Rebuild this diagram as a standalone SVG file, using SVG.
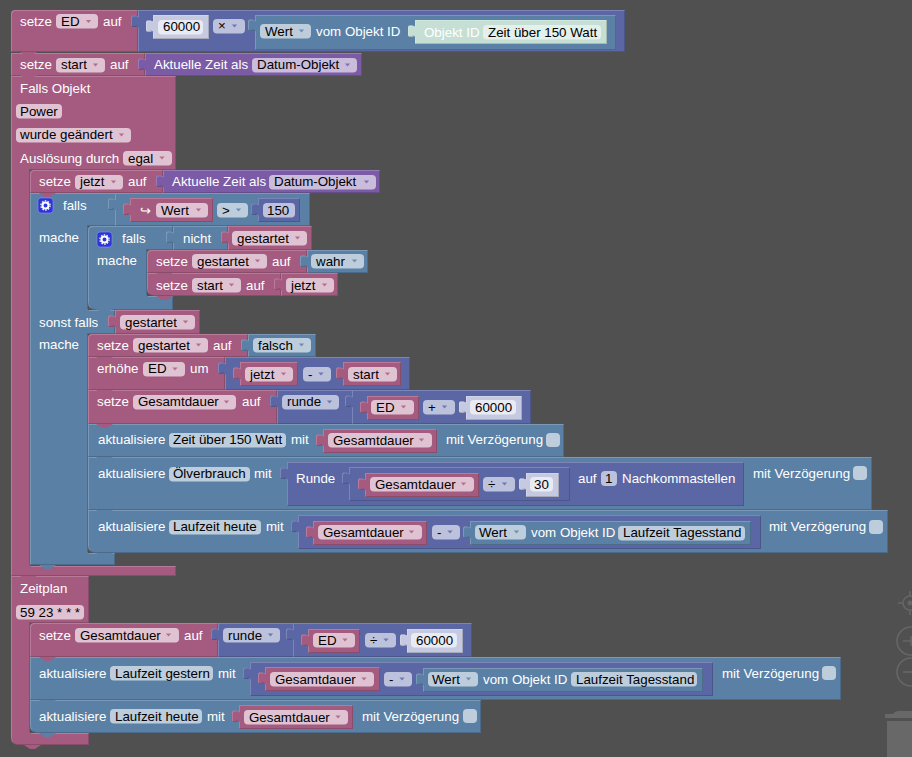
<svg xmlns="http://www.w3.org/2000/svg" width="912" height="757" viewBox="0 0 912 757">
<style>
text{font-family:"Liberation Sans",Arial,sans-serif;font-size:13.33px;fill:#fff}
.f text{fill:#000}
.bk{filter:url(#bv)}
.m{fill:#a55b80}.b{fill:#5b80a5}.i{fill:#5b67a5}.p{fill:#7b5ba5}.n{fill:#c6cae1}.g{fill:#c5dfd5}
.fm{fill:#e0c3d2}.fb{fill:#bdcddc}.fi{fill:#bdc2dc}.fp{fill:#cabddc}.fn{fill:#e9ebf4}.fg{fill:#e4f0eb}
.tool{fill:none;stroke:#666;stroke-width:1.6}
</style>
<defs>
<filter id="bv" x="-2%" y="-6%" width="104%" height="112%" color-interpolation-filters="sRGB">
<feOffset in="SourceAlpha" dx="1" dy="1" result="o1"/>
<feComposite in="SourceAlpha" in2="o1" operator="out" result="e1"/>
<feFlood flood-color="#fff" flood-opacity=".2"/><feComposite in2="e1" operator="in" result="hl"/>
<feOffset in="SourceAlpha" dx="-1" dy="-1" result="o2"/>
<feComposite in="SourceAlpha" in2="o2" operator="out" result="e2"/>
<feFlood flood-color="#000" flood-opacity=".16"/><feComposite in2="e2" operator="in" result="sh"/>
<feMerge><feMergeNode in="SourceGraphic"/><feMergeNode in="hl"/><feMergeNode in="sh"/></feMerge>
</filter>
<path id="tab" d="M1,-.5L-1,.5L-2,-.5H-6L-7,1V9L-6,11H-2L-1,10L1,11Z"/>
<polygon id="dd" points="-2.6,-1.6 2.6,-1.6 0,1.6" opacity=".8"/>
<path id="notch" d="M0,0L6,4H11L17,0Z"/>
<g id="gear"><rect width="15" height="15" rx="3" fill="#2b35d8" stroke="#8f95e8" stroke-width=".6"/><circle cx="7.5" cy="7.5" r="3" fill="none" stroke="#fff" stroke-width="2"/><circle cx="7.5" cy="7.5" r="4.6" fill="none" stroke="#fff" stroke-width="1.2" stroke-dasharray="1.6 1.3"/></g>
</defs>
<rect width="912" height="757" fill="#505050"/>

<g id="tools">
<circle class="tool" cx="910" cy="603" r="7"/><path class="tool" d="M898,603H903M910,591V596M910,610V615"/><circle cx="910" cy="603" r="2.5" fill="#666"/>
<circle class="tool" cx="911" cy="641" r="14"/><path class="tool" d="M903,641H912M911,636V646"/>
<circle class="tool" cx="911" cy="672" r="14"/><path class="tool" d="M903,672H912"/>
<path fill="#686868" d="M885,714H893Q895,711 899,711H912V718H885ZM887,721H912V757H887Z"/>
</g>

<g id="setze-ed">
<g class="bk m"><path d="M11,14Q11,10 15,10H138V52H11Z"/></g>
<text x="20" y="26">setze</text>
<g class="f"><rect class="fm" x="56" y="14" width="42" height="14.5" rx="4"/><text x="61" y="26">ED</text><use href="#dd" class="m" x="88.5" y="21.5"/></g>
<text x="103" y="26">auf</text>
</g>
<g id="mult">
<g class="bk i"><rect x="138" y="10" width="487" height="42"/><use href="#tab" x="138" y="16"/></g>
<g class="bk n"><rect x="153" y="15" width="56" height="24"/><use href="#tab" x="153" y="21"/></g>
<g class="f"><rect class="fn" x="158" y="20" width="45" height="14.5" rx="4"/><text x="163" y="31">60000</text></g>
<g class="f"><rect class="fi" x="213" y="19" width="32" height="14.5" rx="4"/><text x="218" y="30">×</text><use href="#dd" class="i" x="234.5" y="26"/></g>
</g>
<g id="wert-zeit">
<g class="bk b"><rect x="255" y="15" width="361" height="35"/><use href="#tab" x="255" y="20"/></g>
<g class="f"><rect class="fb" x="260" y="24" width="51" height="14.5" rx="4"/><text x="265" y="36">Wert</text><use href="#dd" class="b" x="301.5" y="31"/></g>
<text x="316" y="36">vom Objekt ID</text>
<g class="bk g"><rect x="415" y="20" width="192" height="24"/><use href="#tab" x="415" y="26"/></g>
<text x="424" y="37">Objekt ID</text>
<g class="f"><rect class="fg" x="483" y="25" width="118" height="14.5" rx="4"/><text x="488" y="37">Zeit über 150 Watt</text></g>
</g>

<g id="setze-start">
<g class="bk m"><rect x="11" y="53" width="134" height="23"/></g>
<text x="20" y="69">setze</text>
<g class="f"><rect class="fm" x="56" y="58" width="49" height="14.5" rx="4"/><text x="61" y="69">start</text><use href="#dd" class="m" x="95.5" y="65"/></g>
<text x="110" y="69">auf</text>
<g class="bk p"><rect x="145" y="53" width="217" height="23"/><use href="#tab" x="145" y="59"/></g>
<text x="154" y="69">Aktuelle Zeit als</text>
<g class="f"><rect class="fp" x="252" y="58" width="105" height="14.5" rx="4"/><text x="257" y="69">Datum-Objekt</text><use href="#dd" class="p" x="347.5" y="65"/></g>
</g>

<g id="falls-objekt">
<g class="bk m"><path d="M11,76H176V170H30V566H176V576H11Z"/></g>
<text x="20" y="93">Falls Objekt</text>
<g class="f"><rect class="fm" x="16" y="104" width="46" height="14.5" rx="4"/><text x="20" y="116">Power</text></g>
<g class="f"><rect class="fm" x="16" y="128" width="115" height="14.5" rx="4"/><text x="20" y="139">wurde geändert</text><use href="#dd" class="m" x="121.5" y="135"/></g>
<text x="20" y="163">Auslösung durch</text>
<g class="f"><rect class="fm" x="123" y="151" width="49" height="14.5" rx="4"/><text x="128" y="163">egal</text><use href="#dd" class="m" x="162" y="158"/></g>
</g>

<g id="setze-jetzt">
<g class="bk m"><path d="M30,174Q30,170 34,170H163V193H30Z"/></g>
<text x="39" y="186">setze</text>
<g class="f"><rect class="fm" x="75" y="175" width="48" height="14.5" rx="4"/><text x="80" y="186">jetzt</text><use href="#dd" class="m" x="113.5" y="182"/></g>
<text x="128" y="186">auf</text>
<g class="bk p"><rect x="163" y="170" width="217" height="23"/><use href="#tab" x="163" y="176"/></g>
<text x="172" y="186">Aktuelle Zeit als</text>
<g class="f"><rect class="fp" x="269" y="175" width="107" height="14.5" rx="4"/><text x="274" y="186">Datum-Objekt</text><use href="#dd" class="p" x="366.5" y="182"/></g>
</g>

<g id="falls-outer">
<g class="bk b"><path d="M30,193H310V226H88V310H115V334H88V553H115V565H30Z"/></g>
<use href="#gear" x="38" y="198"/>
<text x="63" y="210">falls</text>
<text x="39" y="242">mache</text>
<text x="39" y="327">sonst falls</text>
<text x="39" y="349">mache</text>
</g>
<g id="vergleich">
<g class="bk b"><rect x="115" y="193" width="195" height="33"/><use href="#tab" x="115" y="199"/></g>
<g class="bk m"><rect x="130" y="198" width="83" height="24"/><use href="#tab" x="130" y="204"/></g>
<text x="140" y="215" font-size="15">↪</text>
<g class="f"><rect class="fm" x="156" y="203" width="52" height="14.5" rx="4"/><text x="161" y="215">Wert</text><use href="#dd" class="m" x="198.5" y="210"/></g>
<g class="f"><rect class="fb" x="217" y="203" width="31" height="14.5" rx="4"/><text x="222" y="215">&gt;</text><use href="#dd" class="b" x="238.5" y="210"/></g>
<g class="bk i"><rect x="258" y="198" width="42" height="24"/><use href="#tab" x="258" y="204"/></g>
<g class="f"><rect class="fi" x="263" y="203" width="32" height="14.5" rx="4"/><text x="267" y="215">150</text></g>
</g>

<g id="falls-inner">
<g class="bk b"><path d="M88,230Q88,226 92,226H173V250H147V296H173V310H96Q88,310 88,302Z"/></g>
<use href="#gear" x="97" y="232"/>
<text x="122" y="243">falls</text>
<text x="97" y="265">mache</text>
<g class="bk b"><rect x="173" y="226" width="55" height="24"/><use href="#tab" x="173" y="232"/></g>
<text x="183" y="243">nicht</text>
<g class="bk m"><rect x="228" y="226" width="84" height="24"/><use href="#tab" x="228" y="232"/></g>
<g class="f"><rect class="fm" x="232" y="231" width="75" height="14.5" rx="4"/><text x="237" y="243">gestartet</text><use href="#dd" class="m" x="297.5" y="238"/></g>
</g>
<g id="setze-gestartet-wahr">
<g class="bk m"><path d="M147,254Q147,250 151,250H307V273H147Z"/></g>
<text x="156" y="266">setze</text>
<g class="f"><rect class="fm" x="192" y="254" width="75" height="14.5" rx="4"/><text x="197" y="266">gestartet</text><use href="#dd" class="m" x="257.5" y="261"/></g>
<text x="272" y="266">auf</text>
<g class="bk b"><rect x="307" y="250" width="61" height="23"/><use href="#tab" x="307" y="256"/></g>
<g class="f"><rect class="fb" x="311" y="254" width="53" height="14.5" rx="4"/><text x="316" y="266">wahr</text><use href="#dd" class="b" x="354.5" y="261"/></g>
</g>
<g id="setze-start-jetzt">
<g class="bk m"><path d="M147,273H281V296H155Q147,296 147,288Z"/></g>
<text x="156" y="290">setze</text>
<g class="f"><rect class="fm" x="192" y="278" width="49" height="14.5" rx="4"/><text x="197" y="290">start</text><use href="#dd" class="m" x="231.5" y="285"/></g>
<text x="246" y="290">auf</text>
<g class="bk m"><rect x="281" y="273" width="57" height="23"/><use href="#tab" x="281" y="279"/></g>
<g class="f"><rect class="fm" x="286" y="278" width="48" height="14.5" rx="4"/><text x="291" y="290">jetzt</text><use href="#dd" class="m" x="324.5" y="285"/></g>
</g>

<g id="gestartet-test">
<g class="bk m"><rect x="115" y="310" width="85" height="24"/><use href="#tab" x="115" y="316"/></g>
<g class="f"><rect class="fm" x="120" y="315" width="75" height="14.5" rx="4"/><text x="125" y="327">gestartet</text><use href="#dd" class="m" x="185.5" y="322"/></g>
</g>
<g id="setze-gestartet-falsch">
<g class="bk m"><path d="M88,338Q88,334 92,334H248V357H88Z"/></g>
<text x="97" y="350">setze</text>
<g class="f"><rect class="fm" x="133" y="338" width="75" height="14.5" rx="4"/><text x="138" y="350">gestartet</text><use href="#dd" class="m" x="198.5" y="345"/></g>
<text x="213" y="350">auf</text>
<g class="bk b"><rect x="248" y="334" width="68" height="23"/><use href="#tab" x="248" y="340"/></g>
<g class="f"><rect class="fb" x="253" y="338" width="58" height="14.5" rx="4"/><text x="258" y="350">falsch</text><use href="#dd" class="b" x="301.5" y="345"/></g>
</g>
<g id="erhoehe-ed">
<g class="bk m"><rect x="88" y="357" width="137" height="33"/></g>
<text x="97" y="373">erhöhe</text>
<g class="f"><rect class="fm" x="143" y="362" width="42" height="14.5" rx="4"/><text x="148" y="373">ED</text><use href="#dd" class="m" x="175" y="369"/></g>
<text x="190" y="373">um</text>
<g class="bk i"><rect x="225" y="357" width="185" height="33"/><use href="#tab" x="225" y="363"/></g>
<g class="bk m"><rect x="240" y="362" width="58" height="24"/><use href="#tab" x="240" y="368"/></g>
<g class="f"><rect class="fm" x="245" y="367" width="48" height="14.5" rx="4"/><text x="250" y="379">jetzt</text><use href="#dd" class="m" x="283.5" y="374"/></g>
<g class="f"><rect class="fi" x="303" y="367" width="28" height="14.5" rx="4"/><text x="308" y="379">-</text><use href="#dd" class="i" x="321" y="374"/></g>
<g class="bk m"><rect x="343" y="362" width="58" height="24"/><use href="#tab" x="343" y="368"/></g>
<g class="f"><rect class="fm" x="348" y="367" width="49" height="14.5" rx="4"/><text x="353" y="379">start</text><use href="#dd" class="m" x="387.5" y="374"/></g>
</g>
<g id="setze-gesamtdauer-1">
<g class="bk m"><rect x="88" y="390" width="189" height="34"/></g>
<text x="97" y="406">setze</text>
<g class="f"><rect class="fm" x="133" y="395" width="103" height="14.5" rx="4"/><text x="138" y="406">Gesamtdauer</text><use href="#dd" class="m" x="226.5" y="402"/></g>
<text x="242" y="406">auf</text>
<g class="bk i"><rect x="277" y="390" width="254" height="34"/><use href="#tab" x="277" y="396"/></g>
<g class="f"><rect class="fi" x="282" y="395" width="57" height="14.5" rx="4"/><text x="287" y="406">runde</text><use href="#dd" class="i" x="329.5" y="402"/></g>
<g class="bk i"><rect x="352" y="390" width="179" height="34"/><use href="#tab" x="352" y="396"/></g>
<g class="bk m"><rect x="367" y="396" width="52" height="24"/><use href="#tab" x="367" y="402"/></g>
<g class="f"><rect class="fm" x="371" y="400" width="43" height="14.5" rx="4"/><text x="376" y="412">ED</text><use href="#dd" class="m" x="403.5" y="407"/></g>
<g class="f"><rect class="fi" x="423" y="400" width="32" height="14.5" rx="4"/><text x="428" y="412">+</text><use href="#dd" class="i" x="444.5" y="407"/></g>
<g class="bk n"><rect x="466" y="396" width="56" height="24"/><use href="#tab" x="466" y="402"/></g>
<g class="f"><rect class="fn" x="470" y="400" width="46" height="14.5" rx="4"/><text x="475" y="412">60000</text></g>
</g>
<g id="akt-zeit">
<g class="bk b"><rect x="88" y="424" width="476" height="33"/></g>
<text x="98" y="444">aktualisiere</text>
<g class="f"><rect class="fb" x="169" y="433" width="117" height="14.5" rx="4"/><text x="173" y="444">Zeit über 150 Watt</text></g>
<text x="291" y="444">mit</text>
<g class="bk m"><rect x="323" y="429" width="114" height="24"/><use href="#tab" x="323" y="435"/></g>
<g class="f"><rect class="fm" x="328" y="433" width="104" height="14.5" rx="4"/><text x="333" y="445">Gesamtdauer</text><use href="#dd" class="m" x="421.5" y="440"/></g>
<text x="446" y="444">mit Verzögerung</text>
<rect class="fb" x="546" y="433" width="14" height="14" rx="4"/>
</g>
<g id="akt-oel">
<g class="bk b"><rect x="88" y="457" width="784" height="53"/></g>
<text x="98" y="478">aktualisiere</text>
<g class="f"><rect class="fb" x="169" y="467" width="81" height="14.5" rx="4"/><text x="173" y="478">Ölverbrauch</text></g>
<text x="254" y="478">mit</text>
<g class="bk i"><rect x="287" y="462" width="457" height="44"/><use href="#tab" x="287" y="468"/></g>
<text x="296" y="483">Runde</text>
<g class="bk i"><rect x="349" y="467" width="221" height="34"/><use href="#tab" x="349" y="473"/></g>
<g class="bk m"><rect x="365" y="473" width="114" height="24"/><use href="#tab" x="365" y="479"/></g>
<g class="f"><rect class="fm" x="370" y="477" width="104" height="14.5" rx="4"/><text x="375" y="489">Gesamtdauer</text><use href="#dd" class="m" x="463.5" y="484"/></g>
<g class="f"><rect class="fi" x="483" y="477" width="32" height="14.5" rx="4"/><text x="488" y="489">÷</text><use href="#dd" class="i" x="504.5" y="484"/></g>
<g class="bk n"><rect x="526" y="473" width="33" height="24"/><use href="#tab" x="526" y="479"/></g>
<g class="f"><rect class="fn" x="530" y="477" width="23" height="14.5" rx="4"/><text x="534" y="489">30</text></g>
<text x="578" y="483">auf</text>
<g class="f"><rect class="fi" x="601" y="471" width="16" height="15" rx="4"/><text x="605" y="483">1</text></g>
<text x="622" y="483">Nachkommastellen</text>
<text x="753" y="478">mit Verzögerung</text>
<rect class="fb" x="853" y="466" width="14" height="14" rx="4"/>
</g>
<g id="akt-lauf-heute-1">
<g class="bk b"><path d="M88,510H888V553H96Q88,553 88,545Z"/></g>
<text x="98" y="531">aktualisiere</text>
<g class="f"><rect class="fb" x="169" y="520" width="92" height="14.5" rx="4"/><text x="173" y="531">Laufzeit heute</text></g>
<text x="266" y="531">mit</text>
<g class="bk i"><rect x="298" y="515" width="463" height="34"/><use href="#tab" x="298" y="521"/></g>
<g class="bk m"><rect x="313" y="521" width="114" height="24"/><use href="#tab" x="313" y="527"/></g>
<g class="f"><rect class="fm" x="318" y="525" width="104" height="14.5" rx="4"/><text x="323" y="537">Gesamtdauer</text><use href="#dd" class="m" x="411.5" y="532"/></g>
<g class="f"><rect class="fi" x="432" y="525" width="28" height="14.5" rx="4"/><text x="437" y="537">-</text><use href="#dd" class="i" x="450" y="532"/></g>
<g class="bk b"><rect x="470" y="521" width="281" height="24"/><use href="#tab" x="470" y="527"/></g>
<g class="f"><rect class="fb" x="475" y="525" width="51" height="14.5" rx="4"/><text x="479" y="537">Wert</text><use href="#dd" class="b" x="516.5" y="532"/></g>
<text x="531" y="537">vom Objekt ID</text>
<g class="f"><rect class="fb" x="618" y="526" width="127" height="14.5" rx="4"/><text x="623" y="537">Laufzeit Tagesstand</text></g>
<text x="769" y="531">mit Verzögerung</text>
<rect class="fb" x="869" y="520" width="14" height="14" rx="4"/>
</g>

<g id="zeitplan">
<g class="bk m"><path d="M11,576H89V623H30V733H89V745H19Q11,745 11,737Z"/></g>
<text x="20" y="593">Zeitplan</text>
<g class="f"><rect class="fm" x="16" y="605" width="68" height="14.5" rx="4"/><text x="20" y="617">59 23 * * *</text></g>
</g>
<g id="setze-gesamtdauer-2">
<g class="bk m"><path d="M30,627Q30,623 34,623H218V657H30Z"/></g>
<text x="39" y="640">setze</text>
<g class="f"><rect class="fm" x="75" y="628" width="104" height="14.5" rx="4"/><text x="80" y="640">Gesamtdauer</text><use href="#dd" class="m" x="168.5" y="635"/></g>
<text x="184" y="640">auf</text>
<g class="bk i"><rect x="218" y="623" width="254" height="34"/><use href="#tab" x="218" y="629"/></g>
<g class="f"><rect class="fi" x="223" y="628" width="57" height="14.5" rx="4"/><text x="228" y="640">runde</text><use href="#dd" class="i" x="270.5" y="635"/></g>
<g class="bk i"><rect x="293" y="623" width="179" height="34"/><use href="#tab" x="293" y="629"/></g>
<g class="bk m"><rect x="308" y="629" width="52" height="24"/><use href="#tab" x="308" y="635"/></g>
<g class="f"><rect class="fm" x="313" y="633" width="42" height="14.5" rx="4"/><text x="318" y="645">ED</text><use href="#dd" class="m" x="345" y="640"/></g>
<g class="f"><rect class="fi" x="365" y="633" width="31" height="14.5" rx="4"/><text x="370" y="645">÷</text><use href="#dd" class="i" x="386" y="640"/></g>
<g class="bk n"><rect x="407" y="629" width="56" height="24"/><use href="#tab" x="407" y="635"/></g>
<g class="f"><rect class="fn" x="411" y="633" width="46" height="14.5" rx="4"/><text x="416" y="645">60000</text></g>
</g>
<g id="akt-lauf-gestern">
<g class="bk b"><rect x="30" y="657" width="811" height="43"/></g>
<text x="39" y="678">aktualisiere</text>
<g class="f"><rect class="fb" x="110" y="666" width="103" height="14.5" rx="4"/><text x="115" y="678">Laufzeit gestern</text></g>
<text x="218" y="678">mit</text>
<g class="bk i"><rect x="250" y="662" width="463" height="34"/><use href="#tab" x="250" y="668"/></g>
<g class="bk m"><rect x="265" y="667" width="115" height="24"/><use href="#tab" x="265" y="673"/></g>
<g class="f"><rect class="fm" x="270" y="672" width="104" height="14.5" rx="4"/><text x="275" y="684">Gesamtdauer</text><use href="#dd" class="m" x="364" y="679"/></g>
<g class="f"><rect class="fi" x="384" y="672" width="28" height="14.5" rx="4"/><text x="389" y="684">-</text><use href="#dd" class="i" x="402" y="679"/></g>
<g class="bk b"><rect x="423" y="668" width="280" height="24"/><use href="#tab" x="423" y="674"/></g>
<g class="f"><rect class="fb" x="428" y="672" width="50" height="14.5" rx="4"/><text x="432" y="684">Wert</text><use href="#dd" class="b" x="468.5" y="679"/></g>
<text x="483" y="684">vom Objekt ID</text>
<g class="f"><rect class="fb" x="571" y="672" width="126" height="14.5" rx="4"/><text x="576" y="684">Laufzeit Tagesstand</text></g>
<text x="722" y="678">mit Verzögerung</text>
<rect class="fb" x="822" y="666" width="14" height="14" rx="4"/>
</g>
<g id="akt-lauf-heute-2">
<g class="bk b"><path d="M30,700H481V733H38Q30,733 30,725Z"/></g>
<text x="39" y="721">aktualisiere</text>
<g class="f"><rect class="fb" x="110" y="709" width="92" height="14.5" rx="4"/><text x="115" y="721">Laufzeit heute</text></g>
<text x="207" y="721">mit</text>
<g class="bk m"><rect x="239" y="705" width="114" height="24"/><use href="#tab" x="239" y="711"/></g>
<g class="f"><rect class="fm" x="244" y="710" width="104" height="14.5" rx="4"/><text x="249" y="722">Gesamtdauer</text><use href="#dd" class="m" x="338" y="717"/></g>
<text x="362" y="721">mit Verzögerung</text>
<rect class="fb" x="463" y="709" width="14" height="14" rx="4"/>
</g>

<g id="connectors">
<use href="#notch" class="m" x="20" y="52"/><use href="#notch" class="m" x="20" y="75"/><use href="#notch" class="m" x="20" y="576"/><use href="#notch" class="m" x="24" y="745"/>
<use href="#notch" class="m" x="39" y="193"/><use href="#notch" class="b" x="39" y="565"/>
<use href="#notch" class="b" x="96" y="309"/><use href="#notch" class="m" x="156" y="273"/><use href="#notch" class="m" x="156" y="296"/>
<use href="#notch" class="m" x="96" y="357"/><use href="#notch" class="m" x="96" y="390"/><use href="#notch" class="m" x="96" y="424"/>
<use href="#notch" class="b" x="96" y="457"/><use href="#notch" class="b" x="96" y="510"/><use href="#notch" class="b" x="96" y="553"/>
<use href="#notch" class="m" x="39" y="657"/><use href="#notch" class="b" x="39" y="700"/><use href="#notch" class="b" x="39" y="733"/>
</g>
</svg>
